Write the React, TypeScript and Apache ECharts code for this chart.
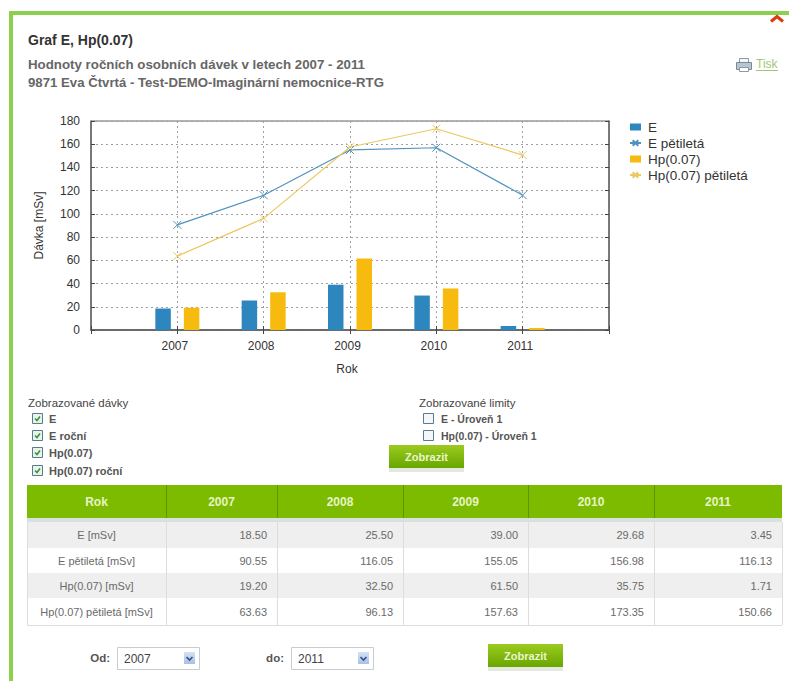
import React, { useEffect, useRef } from "react";
import * as echarts from "echarts";

const years = ["2007", "2008", "2009", "2010", "2011"];
const axisCategories = ["", ...years, " "];
const eValues = [18.5, 25.5, 39.0, 29.68, 3.45];
const eFive = [90.55, 116.05, 155.05, 156.98, 116.13];
const hpValues = [19.2, 32.5, 61.5, 35.75, 1.71];
const hpFive = [63.63, 96.13, 157.63, 173.35, 150.66];
const eName = "E";
const eFiveName = "E pětiletá";
const hpName = "Hp(0.07)";
const hpFiveName = "Hp(0.07) pětiletá";
const rowLabels = ["E [mSv]", "E pětiletá [mSv]", "Hp(0.07) [mSv]", "Hp(0.07) pětiletá [mSv]"];
const rowValues = [eValues, eFive, hpValues, hpFive];
const doseChecks = ["E", "E roční", "Hp(0.07)", "Hp(0.07) roční"];
const limitChecks = ["E - Úroveň 1", "Hp(0.07) - Úroveň 1"];

const FONT = "Liberation Sans";
const BLUE = "#2E86BE";
const GOLD = "#F7BB10";
const BLUE_LINE = "#4F93BC";
const GOLD_LINE = "#EBC862";
const CROSS = "path://M0 0L10 10M10 0L0 10";

const pad = (v: (number | null)[]) => [null, ...v, null];

const T = (x: number, y: number, text: string, o: any = {}) => ({
  type: "text",
  x,
  y,
  silent: true,
  style: {
    text,
    fontFamily: FONT,
    fontSize: o.size ?? 12,
    fontWeight: o.bold ? "bold" : "normal",
    fill: o.fill ?? "#444",
    align: o.align ?? "left",
    verticalAlign: "middle",
  },
});
const R = (x: number, y: number, w: number, h: number, fill: any, stroke?: string) => ({
  type: "rect",
  silent: true,
  shape: { x, y, width: w, height: h },
  style: { fill, stroke: stroke ?? null, lineWidth: stroke ? 1 : 0 },
});
const L = (x1: number, y1: number, x2: number, y2: number, stroke: string, w = 1) => ({
  type: "line",
  silent: true,
  shape: { x1, y1, x2, y2 },
  style: { stroke, lineWidth: w },
});
const P = (points: number[][], stroke: string, w = 2) => ({
  type: "polyline",
  silent: true,
  shape: { points },
  style: { stroke, lineWidth: w, fill: null },
});

const vGrad = (a: string, b: string) => ({
  type: "linear",
  x: 0,
  y: 0,
  x2: 0,
  y2: 1,
  colorStops: [
    { offset: 0, color: a },
    { offset: 1, color: b },
  ],
});

const button = (x: number, y: number) => [
  R(x, y + 23, 75, 4, "#E4E8E0"),
  R(x, y, 75, 23, vGrad("#9CCB20", "#68A600")),
  T(x + 37.5, y + 11.5, "Zobrazit", { bold: true, size: 11, align: "center", fill: "#EAF6CC" }),
];

const checkbox = (x: number, y: number, label: string, checked: boolean, lx: number, size = 11) => {
  const items: any[] = [R(x + 0.5, y - 5.5, 10, 10, checked ? "#EAF3EA" : "#F4F6F8", "#5A7A92")];
  if (checked) items.push(P([[x + 3, y - 0.5], [x + 5, y + 1.5], [x + 8, y - 2.5]], "#2E9A3A", 1.6));
  items.push(T(lx, y, label, { bold: true, size, fill: "#555" }));
  return items;
};

const select = (x: number, w: number, value: string) => [
  R(x + 0.5, 647.5, w, 22, "#FFFFFF", "#C8CCD0"),
  T(x + 7, 658.5, value, { size: 12, fill: "#444" }),
  R(x + w - 15, 652, 11, 12, vGrad("#D6E2F4", "#A8C0E4")),
  P([[x + w - 12.5, 657], [x + w - 9.5, 660], [x + w - 6.5, 657]], "#34508C", 1.6),
];

const colX = [27, 166, 277, 403, 528, 654, 782];
const rowY = [522, 548, 573, 598, 625];

const tableGraphics = () => {
  const g: any[] = [];
  g.push(R(27, 485, 755, 33, "#7DBB00"));
  g.push(R(27, 518, 755, 4, "#D9E0E0"));
  colX.slice(1, -1).forEach((x) => g.push(L(x + 0.5, 485, x + 0.5, 518, "#5E9400")));
  g.push(T((colX[0] + colX[1]) / 2, 502, "Rok", { bold: true, size: 12, align: "center", fill: "#E6F4C4" }));
  years.forEach((y, i) =>
    g.push(T((colX[i + 1] + colX[i + 2]) / 2, 502, y, { bold: true, size: 12, align: "center", fill: "#E6F4C4" }))
  );
  rowLabels.forEach((lab, r) => {
    const y0 = rowY[r];
    const y1 = rowY[r + 1];
    g.push(R(27, y0, 755, y1 - y0, r % 2 === 0 ? "#EFEFEF" : "#FFFFFF"));
    g.push(L(27, y1 + 0.5, 782, y1 + 0.5, "#DDDDDD"));
    g.push(T((colX[0] + colX[1]) / 2, (y0 + y1) / 2, lab, { size: 11, align: "center", fill: "#6A6A6A" }));
    rowValues[r].forEach((v, c) =>
      g.push(T(colX[c + 2] - 10, (y0 + y1) / 2, v.toFixed(2), { size: 11, align: "right", fill: "#6A6A6A" }))
    );
  });
  colX.forEach((x) => g.push(L(x + 0.5, 522, x + 0.5, 625, "#DDDDDD")));
  return g;
};

const pageGraphics = () => [
  R(9, 11, 780, 4, "#8CD04E"),
  R(9, 11, 4, 670, "#8CD04E"),
  P([[771, 21.5], [777, 16.5], [783, 21.5]], "#E03A10", 3),
  T(28, 40, "Graf E, Hp(0.07)", { bold: true, size: 14, fill: "#333" }),
  T(28, 64, "Hodnoty ročních osobních dávek v letech 2007 - 2011", { bold: true, size: 13.3, fill: "#666" }),
  T(28, 82.5, "9871 Eva Čtvrtá - Test-DEMO-Imaginární nemocnice-RTG", { bold: true, size: 13.2, fill: "#666" }),
  R(739.5, 58.5, 9, 5, "#F4F6F8", "#8A9AA8"),
  R(736.5, 62.5, 15, 7, "#B8C4CE", "#7A8A98"),
  R(739.5, 67.5, 9, 4, "#FFFFFF", "#8A9AA8"),
  T(756, 64, "Tisk", { size: 12, fill: "#A4C478" }),
  L(756, 70.5, 778, 70.5, "#A4C478"),
  T(28, 403, "Zobrazované dávky", { size: 11.5, fill: "#444" }),
  ...doseChecks.flatMap((c, i) => checkbox(32, [419, 436, 453, 471][i], c, true, 49)),
  T(419, 403, "Zobrazované limity", { size: 11.5, fill: "#444" }),
  ...limitChecks.flatMap((c, i) => checkbox(423, [419, 436][i], c, false, 441, 10.5)),
  ...button(389, 445),
  ...tableGraphics(),
  T(110, 658, "Od:", { bold: true, size: 11.5, align: "right", fill: "#555" }),
  ...select(117, 82, "2007"),
  T(284, 658, "do:", { bold: true, size: 11.5, align: "right", fill: "#555" }),
  ...select(291, 82, "2011"),
  ...button(488, 644),
];

const lineSeries = (name: string, data: number[], color: string) => ({
  name,
  type: "line",
  data: pad(data),
  symbol: CROSS,
  symbolSize: 8,
  lineStyle: { color, width: 1.2 },
  itemStyle: { color: "transparent", borderColor: color, borderWidth: 1 },
});

const barSeries = (name: string, data: number[], color: string) => ({
  name,
  type: "bar",
  data: pad(data),
  barWidth: 15.5,
  barGap: "84%",
  itemStyle: { color },
});

export default function App() {
  const ref = useRef<HTMLDivElement>(null);
  useEffect(() => {
    const chart = echarts.init(ref.current!, undefined, { renderer: "svg" });
    const labelStyle = { fontFamily: FONT, fontSize: 12, color: "#333" };
    const grey = "#666666";
    const dash = { color: "#A0A0A0", type: [2, 3] as number[], width: 1 };
    chart.setOption({
      animation: false,
      backgroundColor: "#FFFFFF",
      textStyle: { fontFamily: FONT },
      grid: { left: 91, right: 180, top: 121, bottom: 351, show: true, borderColor: grey, borderWidth: 1 },
      legend: {
        show: true,
        orient: "vertical",
        left: 624,
        top: 115,
        itemWidth: 11,
        itemHeight: 7,
        itemGap: 2,
        textStyle: { fontFamily: FONT, fontSize: 13.5, color: "#333", padding: [0, 0, 0, 2] },
        data: [
          { name: eName, icon: "rect" },
          { name: eFiveName },
          { name: hpName, icon: "rect" },
          { name: hpFiveName },
        ],
      },
      xAxis: [
        {
          type: "category",
          data: axisCategories,
          boundaryGap: false,
          name: "Rok",
          nameLocation: "middle",
          nameGap: 33,
          nameTextStyle: { ...labelStyle, padding: [0, 6, 0, 0] },
          axisLine: { show: true, lineStyle: { color: grey, width: 1.5 } },
          axisTick: { show: true, inside: true, length: 4, lineStyle: { color: "#444" } },
          axisLabel: { ...labelStyle, interval: 0, margin: 10, padding: [0, 5, 0, 0] },
          splitLine: { show: true, lineStyle: dash },
        },
        {
          type: "category",
          position: "top",
          data: axisCategories,
          boundaryGap: false,
          axisLine: { show: true, lineStyle: { color: grey, width: 1.5 } },
          axisTick: { show: true, inside: true, length: 4, lineStyle: { color: "#444" } },
          axisLabel: { show: false },
          splitLine: { show: false },
        },
      ],
      yAxis: [
        {
          type: "value",
          min: 0,
          max: 180,
          interval: 20,
          name: "Dávka [mSv]",
          nameLocation: "middle",
          nameGap: 46,
          nameTextStyle: labelStyle,
          axisLine: { show: true, lineStyle: { color: grey, width: 1.5 } },
          axisTick: { show: true, inside: true, length: 4, lineStyle: { color: "#444" } },
          axisLabel: { ...labelStyle, margin: 11 },
          splitLine: { show: true, lineStyle: dash },
        },
        {
          type: "value",
          position: "right",
          min: 0,
          max: 180,
          interval: 20,
          axisLine: { show: true, lineStyle: { color: grey, width: 1.5 } },
          axisTick: { show: true, inside: true, length: 4, lineStyle: { color: "#444" } },
          axisLabel: { show: false },
          splitLine: { show: false },
        },
      ],
      series: [
        barSeries(eName, eValues, BLUE),
        lineSeries(eFiveName, eFive, BLUE_LINE),
        barSeries(hpName, hpValues, GOLD),
        lineSeries(hpFiveName, hpFive, GOLD_LINE),
      ],
      graphic: { elements: pageGraphics() },
    });
    return () => chart.dispose();
  }, []);
  return (
    <div
      ref={ref}
      style={{ position: "fixed", left: 0, top: 0, width: 789, height: 681, background: "#fff" }}
    />
  );
}
